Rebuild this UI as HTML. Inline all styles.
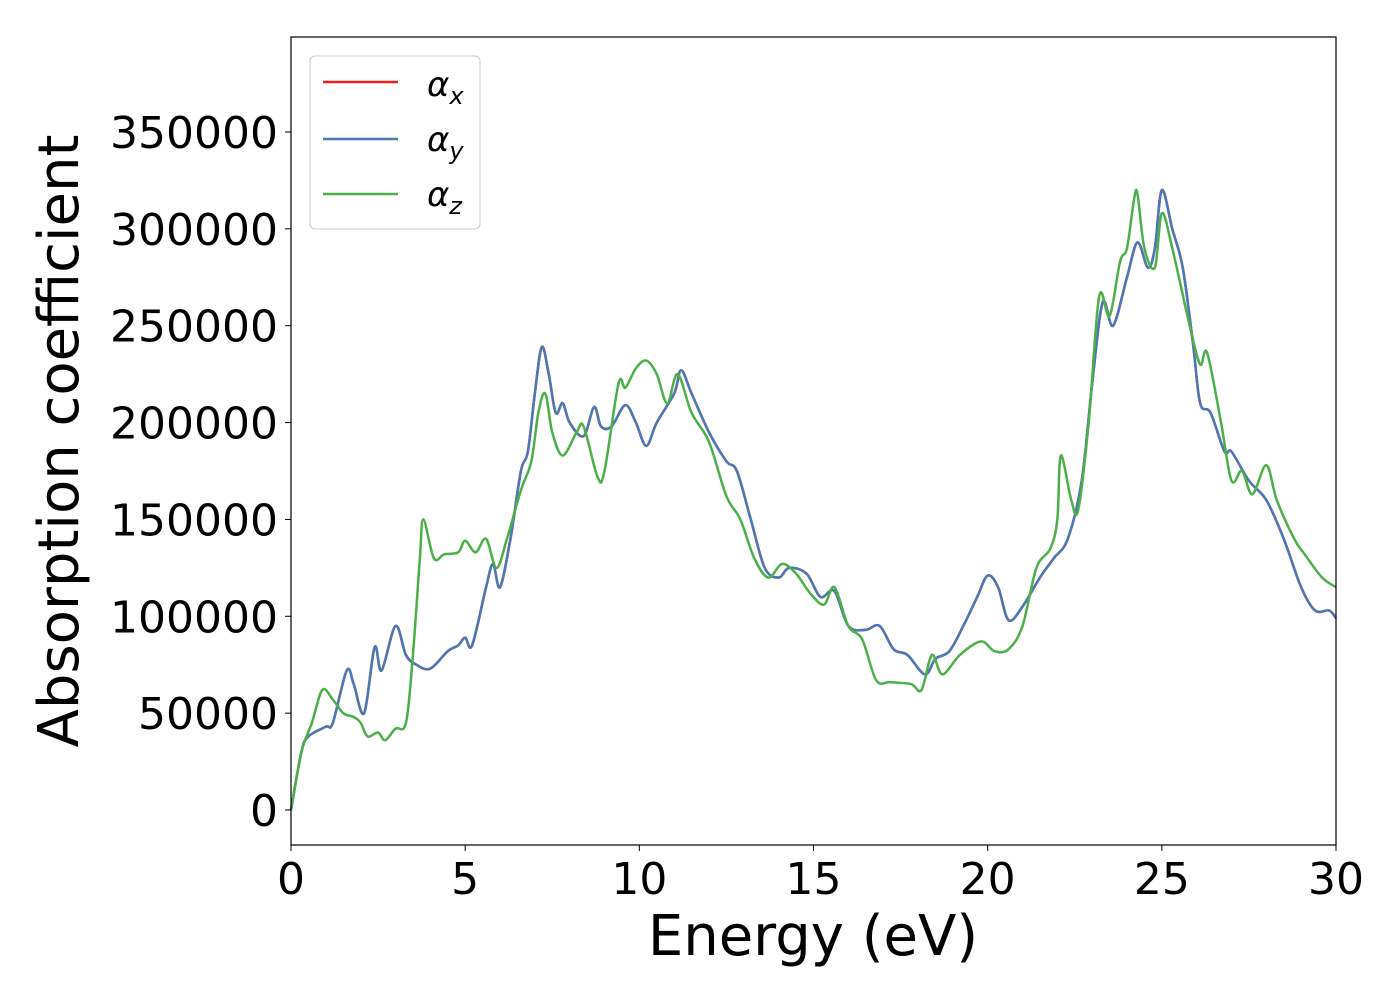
<!DOCTYPE html>
<html><head><meta charset="utf-8"><style>
body{margin:0;background:#fff}
svg text{font-family:"DejaVu Sans","Liberation Sans",sans-serif;fill:#000}
</style></head><body>
<svg width="1400" height="1000">
<g id="plot"></g>
<rect x="291" y="37" width="1045" height="808" fill="none" stroke="#000" stroke-width="1.2"/>
<g id="axes"></g>
<text x="813" y="955" font-size="56" text-anchor="middle">Energy (eV)</text>
<text transform="translate(78,441) rotate(-90)" font-size="56" text-anchor="middle">Absorption coefficient</text>
<g>
<rect x="310" y="56" width="170" height="173" rx="5" fill="#fff" stroke="#ccc"/>
<line x1="323" y1="82" x2="398" y2="82" stroke="#e41a1c" stroke-width="2.5"/>
<text x="427" y="96" font-size="34" font-style="italic">α<tspan font-size="24" dy="8">x</tspan></text>
<line x1="323" y1="139" x2="398" y2="139" stroke="#4a7ab5" stroke-width="2.5"/>
<text x="427" y="151" font-size="34" font-style="italic">α<tspan font-size="24" dy="8">y</tspan></text>
<line x1="323" y1="194" x2="398" y2="194" stroke="#4daf4a" stroke-width="2.5"/>
<text x="427" y="206" font-size="34" font-style="italic">α<tspan font-size="24" dy="8">z</tspan></text>
</g>
</svg>
<script>
const xTicks=[0,5,10,15,20,25,30];
const yTicks=[0,50000,100000,150000,200000,250000,300000,350000];
const xyE=[0,0.3,0.5,1,1.2,1.6,1.8,2.1,2.4,2.6,3.0,3.3,3.6,4.0,4.5,4.8,5.0,5.2,5.6,5.8,6.0,6.3,6.6,6.8,7.0,7.2,7.4,7.6,7.8,8.0,8.4,8.7,8.9,9.2,9.6,9.9,10.2,10.5,11.0,11.2,11.5,12.0,12.5,12.8,13.2,13.6,14.0,14.3,14.8,15.2,15.6,16.0,16.5,16.9,17.3,17.7,18.2,18.5,18.9,19.3,19.7,20.0,20.3,20.6,21.0,21.5,21.9,22.3,22.7,23.0,23.3,23.6,24.0,24.3,24.6,24.8,25.0,25.3,25.6,25.9,26.1,26.4,26.8,27.0,27.5,28.0,28.5,29.0,29.4,29.8,30];
const xyV=[0,30000,38000,43000,45000,72000,65000,50000,84000,72000,95000,80000,75000,73000,82000,85000,89000,85000,115000,127000,115000,140000,175000,185000,215000,239000,225000,205000,210000,200000,193000,208000,198000,198000,209000,200000,188000,200000,215000,227000,215000,195000,180000,175000,150000,125000,120000,125000,122000,110000,113000,95000,93000,95000,83000,80000,70000,78000,82000,95000,110000,121000,115000,98000,105000,120000,130000,140000,170000,220000,262000,250000,275000,293000,280000,290000,320000,300000,280000,240000,210000,205000,185000,185000,170000,160000,140000,115000,103000,103000,99000];
const zE=[0,0.3,0.6,0.9,1.2,1.5,1.8,2.0,2.2,2.5,2.7,3.0,3.3,3.5,3.7,3.8,4.1,4.4,4.8,5.0,5.3,5.6,5.9,6.2,6.6,6.9,7.1,7.3,7.5,7.8,8.2,8.4,8.8,9.0,9.4,9.6,9.9,10.2,10.5,10.8,11.1,11.5,12.0,12.5,12.9,13.3,13.7,14.1,14.5,14.9,15.3,15.6,16.0,16.4,16.8,17.2,17.8,18.1,18.4,18.7,19.2,19.8,20.2,20.6,21.0,21.4,21.8,22.0,22.1,22.4,22.6,22.9,23.2,23.5,23.8,24.0,24.2,24.3,24.5,24.8,25.0,25.3,25.8,26.1,26.3,26.7,27.0,27.3,27.6,28.0,28.3,28.8,29.1,29.6,30];
const zV=[0,30000,45000,62000,57000,50000,48000,45000,38000,40000,36000,42000,45000,80000,130000,150000,130000,132000,133000,139000,133000,140000,125000,140000,165000,180000,205000,215000,195000,183000,195000,198000,172000,175000,220000,218000,228000,232000,225000,210000,225000,205000,190000,162000,150000,130000,120000,127000,122000,112000,106000,115000,95000,88000,67000,66000,65000,62000,80000,70000,80000,87000,82000,83000,95000,125000,135000,150000,183000,160000,155000,200000,265000,255000,283000,290000,315000,318000,290000,280000,308000,290000,250000,230000,236000,200000,170000,175000,163000,178000,160000,140000,132000,120000,115000];
const NS='http://www.w3.org/2000/svg';
const sx=e=>291+e*(1045/30);
const sy=v=>810-v*(678/350000);
const plot=document.getElementById('plot'),axes=document.getElementById('axes');
function path(E,V){let p=[];for(let i=0;i<E.length;i++){const x=sx(E[i]),y=sy(V[i]);if(i==0){p.push('M'+x+','+y);continue;}
const x0=sx(E[Math.max(i-2,0)]),y0=sy(V[Math.max(i-2,0)]),x1=sx(E[i-1]),y1=sy(V[i-1]),x3=sx(E[Math.min(i+1,E.length-1)]),y3=sy(V[Math.min(i+1,E.length-1)]);
p.push('C'+(x1+(x-x0)/6)+','+(y1+(y-y0)/6)+' '+(x-(x3-x1)/6)+','+(y-(y3-y1)/6)+' '+x+','+y);}return p.join('');}
function line(E,V,c,n){const el=document.createElementNS(NS,'path');el.setAttribute('d',path(E,V));el.setAttribute('fill','none');el.setAttribute('stroke',c);el.setAttribute('stroke-width','2.5');


plot.appendChild(el);}
line(xyE,xyV,'#e41a1c','series-alpha-x');
line(xyE,xyV,'#4a7ab5','series-alpha-y');
line(zE,zV,'#4daf4a','series-alpha-z');
xTicks.forEach(t=>{const x=sx(t);const l=document.createElementNS(NS,'line');l.setAttribute('x1',x);l.setAttribute('x2',x);l.setAttribute('y1',845);l.setAttribute('y2',851);l.setAttribute('stroke','#000');


axes.appendChild(l);
const tx=document.createElementNS(NS,'text');tx.setAttribute('x',x);tx.setAttribute('y',894);tx.setAttribute('font-size','44');tx.setAttribute('text-anchor','middle');tx.textContent=t;


axes.appendChild(tx);});
yTicks.forEach(t=>{const y=sy(t);const l=document.createElementNS(NS,'line');l.setAttribute('x1',285);l.setAttribute('x2',291);l.setAttribute('y1',y);l.setAttribute('y2',y);l.setAttribute('stroke','#000');


axes.appendChild(l);
const tx=document.createElementNS(NS,'text');tx.setAttribute('x',278);tx.setAttribute('y',y+16);tx.setAttribute('font-size','44');tx.setAttribute('text-anchor','end');tx.textContent=t;


axes.appendChild(tx);});
</script>
</body></html>
